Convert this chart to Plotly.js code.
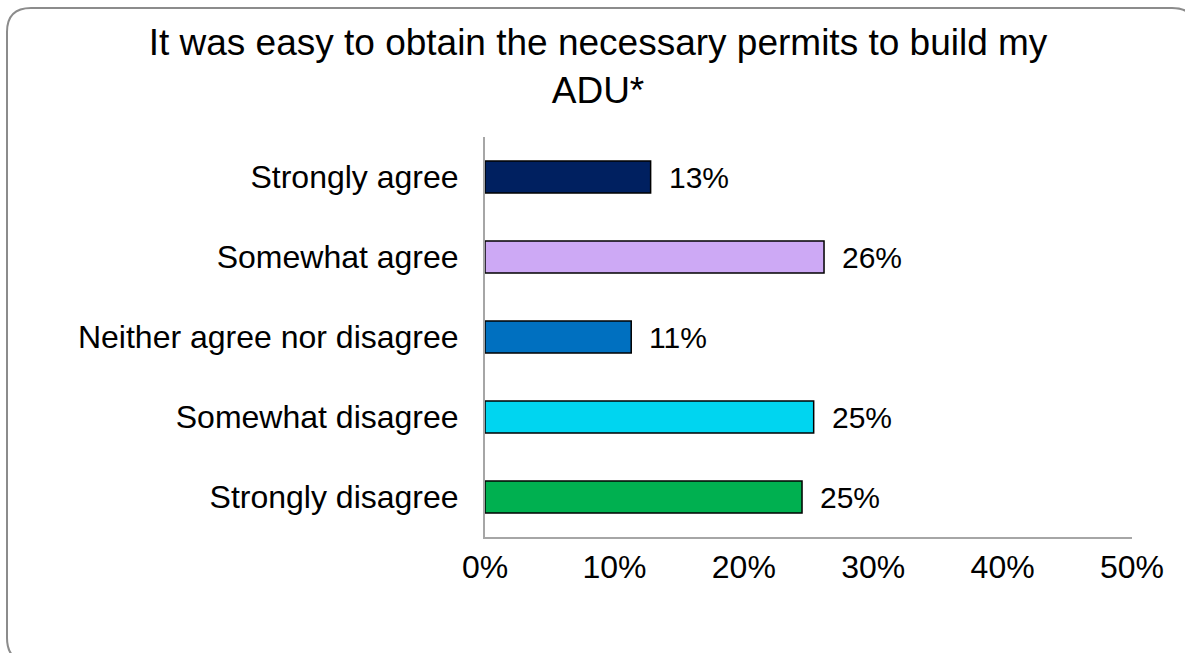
<!DOCTYPE html>
<html>
<head>
<meta charset="utf-8">
<script src="https://cdn.plot.ly/plotly-3.0.1.min.js"></script>
<style>
  html, body { margin: 0; padding: 0; background: #ffffff; }
  #chart { width: 1185px; height: 653px; }
</style>
</head>
<body>
<div id="chart"></div>
<script>
// ---- data ----
const categories = ['Strongly agree', 'Somewhat agree', 'Neither agree nor disagree', 'Somewhat disagree', 'Strongly disagree'];
const values = [12.8, 26.2, 11.3, 25.4, 24.5];
const valueLabels = ['13%', '26%', '11%', '25%', '25%'];
const barColors = ['#002060', '#CDA9F5', '#0070C0', '#00D5F0', '#00B050'];
const xTickVals = [0, 10, 20, 30, 40, 50];
const xTickText = ['0%', '10%', '20%', '30%', '40%', '50%'];
const titleText = 'It was easy to obtain the necessary permits to build my<br>ADU*';

// ---- layout geometry ----
const W = 1185, H = 653;
const M = { l: 485, r: 53, t: 137, b: 116 };
const PW = W - M.l - M.r, PH = H - M.t - M.b;
const px = v => (v - M.l) / PW;
const py = v => (H - M.b - v) / PH;

function roundedRectPath(x0, y0, x1, y1, r) {
  const p = [];
  p.push('M ' + px(x0 + r) + ',' + py(y0));
  p.push('L ' + px(x1 - r) + ',' + py(y0));
  p.push('Q ' + px(x1) + ',' + py(y0) + ' ' + px(x1) + ',' + py(y0 + r));
  p.push('L ' + px(x1) + ',' + py(y1 - r));
  p.push('Q ' + px(x1) + ',' + py(y1) + ' ' + px(x1 - r) + ',' + py(y1));
  p.push('L ' + px(x0 + r) + ',' + py(y1));
  p.push('Q ' + px(x0) + ',' + py(y1) + ' ' + px(x0) + ',' + py(y1 - r));
  p.push('L ' + px(x0) + ',' + py(y0 + r));
  p.push('Q ' + px(x0) + ',' + py(y0) + ' ' + px(x0 + r) + ',' + py(y0));
  p.push('Z');
  return p.join(' ');
}

const FONT = '"Liberation Sans", Arial, Helvetica, sans-serif';

const trace = {
  type: 'bar',
  orientation: 'h',
  x: values,
  y: categories,
  width: 0.4,
  marker: { color: barColors, line: { color: '#000000', width: 1.5 } },
  hoverinfo: 'x+y',
  cliponaxis: false
};

const annotations = categories.map((c, i) => ({
  x: values[i], y: c, xref: 'x', yref: 'y',
  text: valueLabels[i], showarrow: false,
  xanchor: 'left', yanchor: 'middle', xshift: 16,
  font: { family: FONT, size: 30, color: '#000000' }
}));

const layout = {
  width: W, height: H,
  margin: M,
  paper_bgcolor: '#ffffff',
  plot_bgcolor: '#ffffff',
  showlegend: false,
  title: {
    text: titleText,
    font: { family: FONT, size: 37, color: '#000000' },
    xref: 'container', yref: 'container',
    x: 598 / W, xanchor: 'center',
    y: 1 - 55 / H, yanchor: 'top'
  },
  xaxis: {
    range: [0, 50],
    tickvals: xTickVals,
    ticktext: xTickText,
    showgrid: false, zeroline: false,
    showline: true, linecolor: '#A6A6A6', linewidth: 2,
    ticks: '', ticklabelstandoff: 1,
    tickfont: { family: FONT, size: 32, color: '#000000' },
    fixedrange: true
  },
  yaxis: {
    type: 'category',
    autorange: 'reversed',
    showgrid: false, zeroline: false,
    showline: true, linecolor: '#A6A6A6', linewidth: 2,
    ticks: '', ticklabelstandoff: 18,
    tickfont: { family: FONT, size: 32, color: '#000000' },
    fixedrange: true
  },
  annotations: annotations,
  shapes: [{
    type: 'path', xref: 'paper', yref: 'paper',
    path: roundedRectPath(7, 8, 1196, 662, 24),
    line: { color: '#8C8C8C', width: 2 },
    fillcolor: 'rgba(0,0,0,0)',
    layer: 'above'
  }]
};

Plotly.newPlot('chart', [trace], layout, { displayModeBar: false, staticPlot: true });
</script>
</body>
</html>
